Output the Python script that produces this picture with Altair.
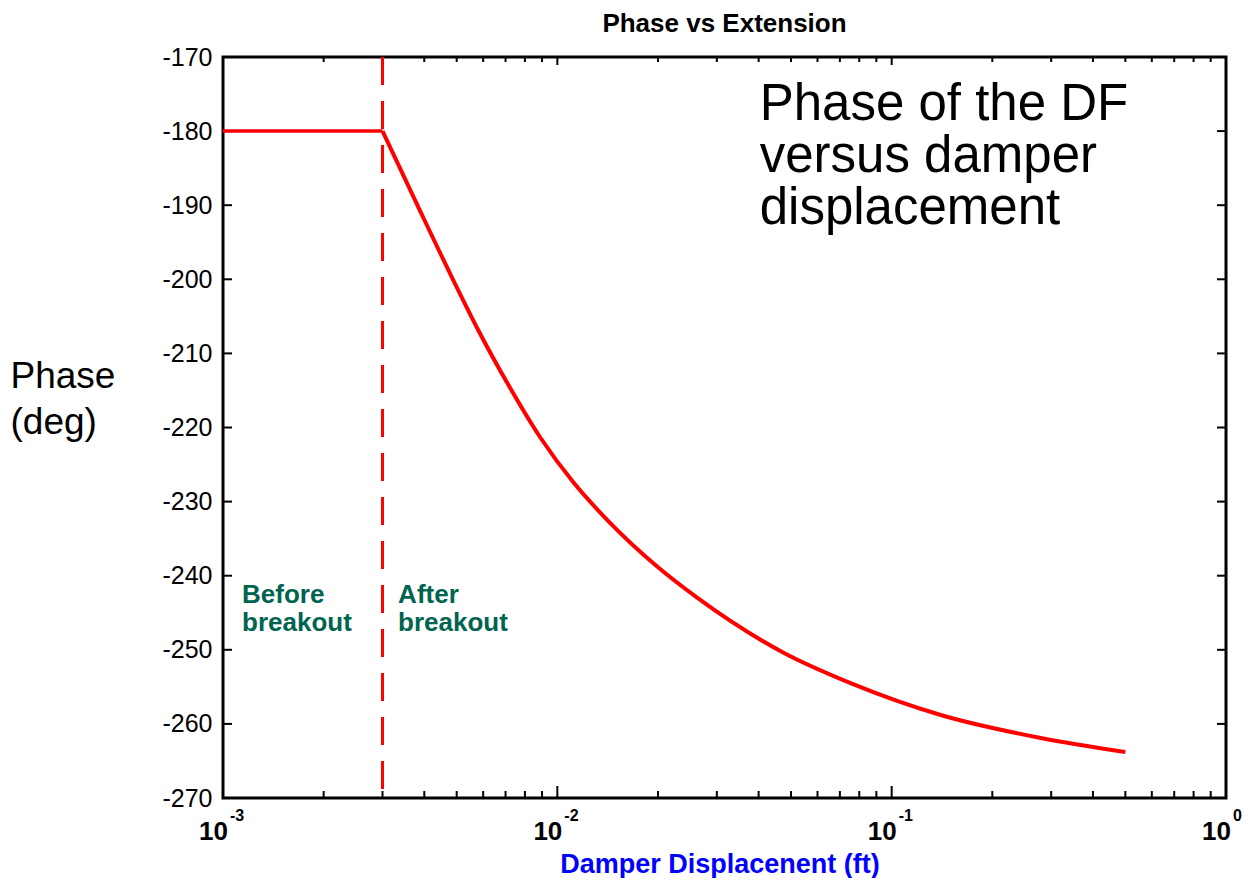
import altair as alt
import pandas as pd

# ---- data ----
flat_x = [0.001, 0.003]
flat_y = [-180, -180]
curve_x = [0.003, 0.003889, 0.004883, 0.005761, 0.007085, 0.008894, 0.011166, 0.014113,
           0.019927, 0.026246, 0.047497, 0.075356, 0.14017, 0.27927, 0.5]
curve_y = [-180, -190.8, -200.1, -206.6, -214.0, -221.35, -227.4, -232.5,
           -238.8, -243.0, -250.4, -254.5, -258.8, -261.9, -263.8]
breakout_x = [0.003]
y_ticks = [-270, -260, -250, -240, -230, -220, -210, -200, -190, -180, -170]
decades = [0.001, 0.01, 0.1, 1.0]
decade_exp = ["-3", "-2", "-1", "0"]
minor_mult = [2, 3, 4, 5, 6, 7, 8, 9]
minor_x = [m * d for d in decades[:-1] for m in minor_mult]

W, H = 1003, 741
FONT = "Liberation Sans"
RED = "#FF0000"
TEAL = "#006450"

xscale = alt.Scale(type="log", domain=[0.001, 1], nice=False)
yscale = alt.Scale(domain=[-270, -170], nice=False, zero=False)

xaxis = alt.Axis(labels=False, ticks=False, domain=False, grid=False,
                 title="Damper Displacenent (ft)", titleColor="#0000FF",
                 titleFont=FONT, titleFontSize=27, titleFontWeight="bold",
                 titleBaseline="alphabetic", titleX=W / 2 - 5, titleY=74)
yaxis = alt.Axis(values=y_ticks, labelExpr="datum.value + ''", ticks=False,
                 domain=False, grid=False, labelFont=FONT, labelFontSize=25,
                 labelColor="black", labelPadding=11,
                 title=["Phase", "(deg)"], titleAngle=0, titleAlign="left",
                 titleBaseline="alphabetic", titleX=-213, titleY=330,
                 titleFont=FONT, titleFontSize=37, titleFontWeight="normal",
                 titleLineHeight=46, titleColor="black")

def X(field):
    return alt.X(field, type="quantitative", scale=xscale, axis=xaxis)

def Y(field):
    return alt.Y(field, type="quantitative", scale=yscale, axis=yaxis)

flat_df = pd.DataFrame({"x": flat_x, "y": flat_y})
curve_df = pd.DataFrame({"x": curve_x, "y": curve_y})
brk_df = pd.DataFrame({"x": breakout_x})
yt_df = pd.DataFrame({"v": y_ticks})
dec_df = pd.DataFrame({"v": decades, "e": decade_exp})
min_df = pd.DataFrame({"v": minor_x})

flat = alt.Chart(flat_df).mark_line(color=RED, strokeWidth=3.5).encode(x=X("x"), y=Y("y"))
curve = alt.Chart(curve_df).mark_line(color=RED, strokeWidth=4, interpolate="monotone").encode(
    x=X("x"), y=Y("y"))
dashed = alt.Chart(brk_df).mark_rule(color=RED, strokeWidth=3, strokeDash=[28, 16]).encode(x=X("x"))

left_ticks = alt.Chart(yt_df).mark_rule(color="black", strokeWidth=2).encode(
    y=Y("v"), x=alt.value(0), x2=alt.value(9))
right_ticks = alt.Chart(yt_df).mark_rule(color="black", strokeWidth=2).encode(
    y=Y("v"), x=alt.value(W - 9), x2=alt.value(W))
bot_major = alt.Chart(dec_df).mark_rule(color="black", strokeWidth=2).encode(
    x=X("v"), y=alt.value(H), y2=alt.value(H - 12))
bot_minor = alt.Chart(min_df).mark_rule(color="black", strokeWidth=2).encode(
    x=X("v"), y=alt.value(H), y2=alt.value(H - 7))
top_major = alt.Chart(dec_df).mark_rule(color="black", strokeWidth=2).encode(
    x=X("v"), y=alt.value(0), y2=alt.value(8))
top_minor = alt.Chart(min_df).mark_rule(color="black", strokeWidth=2).encode(
    x=X("v"), y=alt.value(0), y2=alt.value(5))

ten = alt.Chart(dec_df).mark_text(text="10", align="right", baseline="alphabetic", dx=5,
                                  font=FONT, fontSize=26, fontWeight="bold", color="black").encode(
    x=X("v"), y=alt.value(H + 42))
sup = alt.Chart(dec_df).mark_text(align="left", baseline="alphabetic", dx=7,
                                  font=FONT, fontSize=16, fontWeight="bold", color="black").encode(
    x=X("v"), y=alt.value(H + 23), text="e:N")

big_note = alt.Chart(pd.DataFrame({"x": [0.0403], "y": [-178.5]})).mark_text(
    align="left", baseline="alphabetic", font=FONT, fontSize=51, lineHeight=52, color="black"
).encode(x=X("x"), y=Y("y"), text=alt.value(["Phase of the DF", "versus damper", "displacement"]))

before = alt.Chart(pd.DataFrame({"x": [0.00114], "y": [-243.7]})).mark_text(
    align="left", baseline="alphabetic", font=FONT, fontSize=26, fontWeight="bold",
    lineHeight=28, color=TEAL
).encode(x=X("x"), y=Y("y"), text=alt.value(["Before", "breakout"]))
after = alt.Chart(pd.DataFrame({"x": [0.00334], "y": [-243.7]})).mark_text(
    align="left", baseline="alphabetic", font=FONT, fontSize=26, fontWeight="bold",
    lineHeight=28, color=TEAL
).encode(x=X("x"), y=Y("y"), text=alt.value(["After", "breakout"]))

chart = alt.layer(
    left_ticks, right_ticks, bot_major, bot_minor, top_major, top_minor,
    dashed, flat, curve, ten, sup, big_note, before, after
).properties(
    width=W, height=H,
    title=alt.TitleParams("Phase vs Extension", font=FONT, fontSize=26, fontWeight="bold",
                          anchor="middle", color="black", offset=8),
    autosize=alt.AutoSizeParams(type="none"),
    padding={"left": 215, "top": 49, "right": 20, "bottom": 80},
).configure_view(stroke="black", strokeWidth=3)

chart.save("out.html", embed_options={"renderer": "svg", "actions": False})
